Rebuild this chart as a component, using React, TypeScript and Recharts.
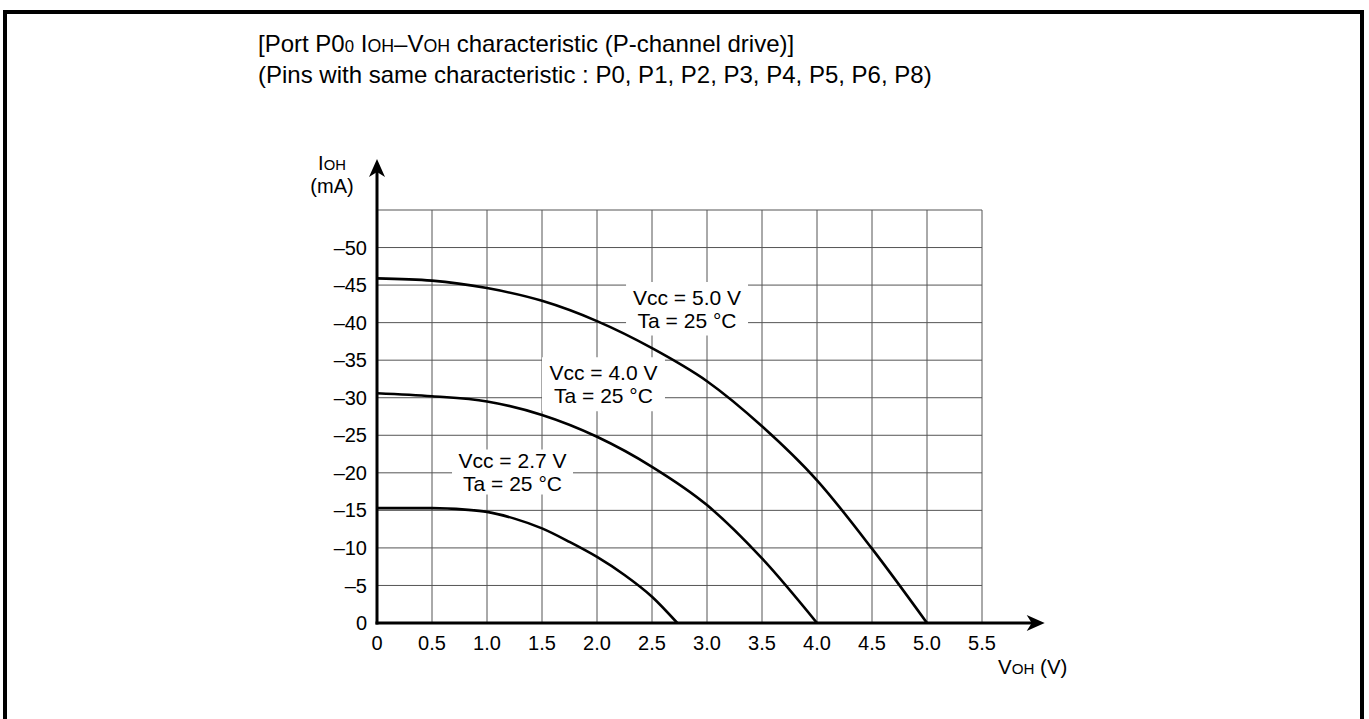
import React from 'react';
import { LineChart, Line, XAxis, YAxis, CartesianGrid, ReferenceLine, ReferenceArea } from 'recharts';

// ---- data ----
const voltageTicks = [0, 0.5, 1.0, 1.5, 2.0, 2.5, 3.0, 3.5, 4.0, 4.5, 5.0, 5.5];
const currentTicks = [0, -5, -10, -15, -20, -25, -30, -35, -40, -45, -50, -55];

const vcc50Voh = [0, 0.5, 1.0, 1.5, 2.0, 2.5, 3.0, 3.5, 4.0, 4.5, 5.0];
const vcc50Ioh = [-45.9, -45.6, -44.6, -42.9, -40.2, -36.6, -32.2, -26.2, -19.0, -9.9, 0];

const vcc40Voh = [0, 0.5, 1.0, 1.5, 2.0, 2.5, 3.0, 3.5, 4.0];
const vcc40Ioh = [-30.6, -30.2, -29.5, -27.7, -24.8, -20.8, -15.7, -8.6, 0];

const vcc27Voh = [0, 0.5, 0.8, 1.0, 1.25, 1.5, 1.75, 2.0, 2.25, 2.5, 2.73];
const vcc27Ioh = [-15.3, -15.3, -15.1, -14.8, -13.9, -12.6, -10.8, -8.8, -6.4, -3.5, 0];

const curveLabels = [
  ['Vcc = 5.0 V', 'Ta = 25 \u00B0C'],
  ['Vcc = 4.0 V', 'Ta = 25 \u00B0C'],
  ['Vcc = 2.7 V', 'Ta = 25 \u00B0C'],
];
// label box extents in data units [x1, x2, y1, y2]
const labelBoxes = [
  [2.264, 3.373, -45.4, -38.3],
  [1.5, 2.618, -35.4, -28.2],
  [0.682, 1.782, -23.1, -17.1],
];

const toPoints = (v: number[], i: number[]) => v.map((x, k) => ({ v: x, i: i[k] }));
const series = [toPoints(vcc50Voh, vcc50Ioh), toPoints(vcc40Voh, vcc40Ioh), toPoints(vcc27Voh, vcc27Ioh)];

const FONT = '"Liberation Sans", Arial, Helvetica, sans-serif';

const BoxLabel = (props: any) => {
  const { viewBox, lines } = props;
  if (!viewBox) return null;
  const cx = viewBox.x + viewBox.width / 2;
  const cy = viewBox.y + viewBox.height / 2;
  return (
    <g>
      <text x={cx} y={cy - 11.5} textAnchor="middle" dominantBaseline="central" fontSize={21} fontFamily={FONT} fill="#000">{lines[0]}</text>
      <text x={cx} y={cy + 11.5} textAnchor="middle" dominantBaseline="central" fontSize={21} fontFamily={FONT} fill="#000">{lines[1]}</text>
    </g>
  );
};

const YArrow = (props: any) => {
  const { x1, y1, x2, y2 } = props;
  return (
    <g>
      <line x1={x1} y1={y1 + 1.5} x2={x2} y2={y2 + 8} stroke="#000" strokeWidth={3} />
      <polygon points={`${x2},${y2} ${x2 - 8},${y2 + 18} ${x2},${y2 + 13} ${x2 + 8},${y2 + 18}`} fill="#000" />
    </g>
  );
};

const XArrow = (props: any) => {
  const { x1, y1, x2, y2 } = props;
  return (
    <g>
      <line x1={x1 - 1.5} y1={y1} x2={x2 - 8} y2={y2} stroke="#000" strokeWidth={3} />
      <polygon points={`${x2},${y2} ${x2 - 18},${y2 - 8} ${x2 - 13},${y2} ${x2 - 18},${y2 + 8}`} fill="#000" />
    </g>
  );
};

const fmtX = (v: number) => (v === 0 ? '0' : v.toFixed(1));
const fmtY = (v: number) => (v === 0 ? '0' : v === -55 ? '' : '\u2013' + Math.abs(v));

const small: React.CSSProperties = { fontSize: '0.74em', lineHeight: 0 };
const titleLine: React.CSSProperties = { position: 'absolute', left: 258, fontSize: 24, lineHeight: '30px', whiteSpace: 'nowrap' };

export default function App() {
  return (
    <div style={{ position: 'absolute', left: 0, top: 0, width: 1369, height: 719, overflow: 'hidden', background: '#fff', fontFamily: FONT, color: '#000' }}>
      <div style={{ position: 'absolute', left: 3, top: 10, width: 1361, height: 800, border: '4px solid #000', boxSizing: 'border-box' }} />
      <div style={{ ...titleLine, top: 29 }}>[Port P0<span style={{ fontSize: '0.7em', lineHeight: 0 }}>0</span> I<span style={small}>OH</span>{'\u2013'}V<span style={small}>OH</span> characteristic (P-channel drive)]</div>
      <div style={{ ...titleLine, top: 60 }}>(Pins with same characteristic : P0, P1, P2, P3, P4, P5, P6, P8)</div>
      <div style={{ position: 'absolute', left: 297, top: 152, width: 70, textAlign: 'center', fontSize: 20, lineHeight: '22px' }}>I<span style={small}>OH</span></div>
      <div style={{ position: 'absolute', left: 297, top: 175, width: 70, textAlign: 'center', fontSize: 20, lineHeight: '22px' }}>(mA)</div>
      <div style={{ position: 'absolute', left: 998, top: 656, fontSize: 20.5, lineHeight: '22px', whiteSpace: 'nowrap' }}>V<span style={small}>OH</span> (V)</div>
      <div style={{ position: 'absolute', left: 0, top: 0 }}>
        <LineChart width={1369} height={719} margin={{ top: 210, right: 387, bottom: 56, left: 317 }}>
          <CartesianGrid stroke="#555" strokeWidth={1} />
          <XAxis
            type="number"
            dataKey="v"
            domain={[0, 5.5]}
            ticks={voltageTicks}
            interval={0}
            tickFormatter={fmtX}
            axisLine={false}
            tickLine={false}
            tickMargin={7}
            height={40}
            tick={{ fill: '#000', fontSize: 20, fontFamily: FONT }}
            allowDataOverflow
          />
          <YAxis
            type="number"
            dataKey="i"
            domain={[-55, 0]}
            reversed
            ticks={currentTicks}
            interval={0}
            tickFormatter={fmtY}
            axisLine={false}
            tickLine={false}
            tickMargin={4}
            width={60}
            tick={{ fill: '#000', fontSize: 20, fontFamily: FONT }}
            allowDataOverflow
          />
          {labelBoxes.map((b, k) => (
            <ReferenceArea key={k} x1={b[0]} x2={b[1]} y1={b[2]} y2={b[3]} fill="#fff" fillOpacity={1} stroke="none" label={<BoxLabel lines={curveLabels[k]} />} />
          ))}
          {series.map((d, k) => (
            <Line key={k} data={d} dataKey="i" type="monotone" stroke="#000" strokeWidth={2.6} dot={false} isAnimationActive={false} />
          ))}
          <ReferenceLine segment={[{ x: 0, y: 0 }, { x: 0, y: -61.8 }]} ifOverflow="visible" shape={YArrow} />
          <ReferenceLine segment={[{ x: 0, y: 0 }, { x: 6.07, y: 0 }]} ifOverflow="visible" shape={XArrow} />
        </LineChart>
      </div>
    </div>
  );
}
